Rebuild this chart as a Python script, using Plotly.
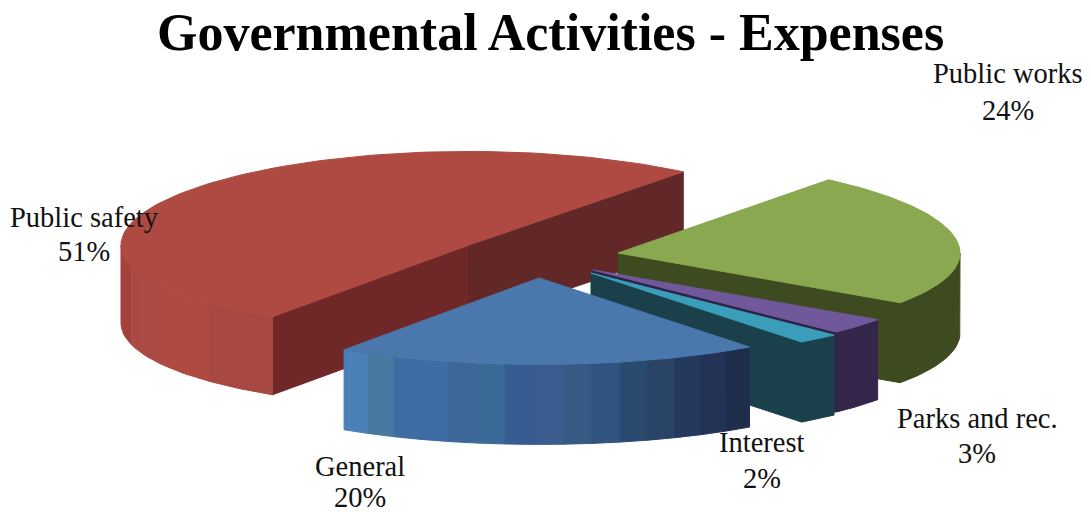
import math
import plotly.graph_objects as go

# Chart data, listed clockwise from the first slice
categories = ["General", "Public safety", "Public works", "Parks and rec.", "Interest"]
shares = [20, 51, 24, 3, 2]
chart_title = "Governmental Activities - Expenses"

# Pie geometry, in page pixels
FIRST_ANGLE = -52.4
RADIUS_X = {"General": 345, "Public safety": 348, "Public works": 342, "Parks and rec.": 345, "Interest": 345}
RADIUS_Y = 90
TILT_BULGE = 0.04
DEPTH = {"General": 80, "Public safety": 78, "Public works": 80, "Parks and rec.": 80, "Interest": 80}
APEX = {
    "General": (539, 278),
    "Public safety": (469, 245),
    "Public works": (618, 253),
    "Parks and rec.": (593, 270),
    "Interest": (591, 273),
}

# Slice colours
TOP_COLOR = {
    "General": "#4A78AC",
    "Public safety": "#AF4A42",
    "Public works": "#89A84F",
    "Parks and rec.": "#71589B",
    "Interest": "#3A9EBB",
}
# Bands of the curved wall, left to right across the page
WALL_BANDS = {
    "General": ["#4A7FB8", "#47789F", "#3F6CA5", "#3F6CA5", "#3D6798", "#3A6A96", "#365C92", "#3A5C8E",
                "#355A84", "#2F5480", "#2A4A70", "#2A4466", "#25395F", "#223355", "#1F2E4D"],
    "Public safety": ["#A5403C", "#A5403C", "#AB4A44", "#AB4A44", "#AE4A41", "#AE4A41", "#A84842", "#A84842"],
    "Public works": ["#3E4A20"],
    "Parks and rec.": ["#33264A"],
    "Interest": ["#1A414B"],
}
FACE_COLOR = {
    "General": ("#2A4A70", "#2A4A70"),
    "Public safety": ("#702728", "#622827"),
    "Public works": ("#3E4A20", "#3E4A20"),
    "Parks and rec.": ("#2E2245", "#2E2245"),
    "Interest": ("#1A414B", "#1A414B"),
}

# Label positions: centre x, then y of the name line and of the percentage line
LABEL_POS = {
    "General": (360, 466, 497),
    "Public safety": (84, 217, 251),
    "Public works": (1008, 73, 110),
    "Parks and rec.": (977, 418, 453),
    "Interest": (762, 442, 478),
}


def rim(name, deg, drop=0):
    """Project a rim point of a slice onto the page."""
    t = math.radians(deg)
    ax, ay = APEX[name]
    s = math.sin(t)
    return ax + RADIUS_X[name] * math.cos(t), ay - RADIUS_Y * s * (1 + TILT_BULGE * s) + drop


def polygon(name, points, color):
    xs = [p[0] for p in points] + [points[0][0]]
    ys = [p[1] for p in points] + [points[0][1]]
    return go.Scatter(
        x=xs, y=ys, mode="lines", fill="toself", fillcolor=color,
        line=dict(color=color, width=1), name=name,
        hoverinfo="skip", showlegend=False,
    )


# Angular span of each slice, going clockwise, with the starting edge kept above -180 degrees
spans = {}
angle = FIRST_ANGLE
for name, share in zip(categories, shares):
    sweep = share * 3.6
    spans[name] = (angle, angle - sweep)
    angle -= sweep
    if angle < -180:
        angle += 360

fig = go.Figure()

# Paint from the back of the pie to the front
for name in sorted(categories, key=lambda c: APEX[c][1]):
    a0, a1 = spans[name]
    ax, ay = APEX[name]
    depth = DEPTH[name]

    # Radial cut faces that look toward the viewer
    for edge, normal, color in ((a0, a0 + 90, FACE_COLOR[name][0]), (a1, a1 - 90, FACE_COLOR[name][1])):
        if math.sin(math.radians(normal)) < 0:
            ex, ey = rim(name, edge)
            fig.add_trace(polygon(name, [(ax, ay), (ex, ey), (ex, ey + depth), (ax, ay + depth)], color))

    # Curved outer wall: only the front half of the rim can be seen
    low, high = max(a1, -180), min(a0, 0)
    bands = WALL_BANDS[name]
    for i, color in enumerate(bands):
        start = low + (high - low) * i / len(bands)
        stop = low + (high - low) * (i + 1) / len(bands)
        steps = [start + (stop - start) * k / 16 for k in range(17)]
        upper = [rim(name, d) for d in steps]
        lower = [rim(name, d, depth) for d in reversed(steps)]
        fig.add_trace(polygon(name, upper + lower, color))

    # Top surface
    arc = [a0 + (a1 - a0) * k / 120 for k in range(121)]
    fig.add_trace(polygon(name, [(ax, ay)] + [rim(name, d) for d in arc], TOP_COLOR[name]))

label_font = dict(family="Liberation Serif", size=28.5, color="#111111")
annotations = [
    dict(x=550, y=32, text=f"<b>{chart_title}</b>", showarrow=False, xref="x", yref="y",
         font=dict(family="Liberation Serif", size=52, color="#000000")),
]
for name, share in zip(categories, shares):
    cx, y_name, y_pct = LABEL_POS[name]
    annotations.append(dict(x=cx, y=y_name, text=name, showarrow=False, xref="x", yref="y", font=label_font))
    annotations.append(dict(x=cx, y=y_pct, text=f"{share}%", showarrow=False, xref="x", yref="y", font=label_font))

fig.update_layout(
    width=1091, height=512,
    margin=dict(l=0, r=0, t=0, b=0),
    paper_bgcolor="white", plot_bgcolor="white",
    xaxis=dict(range=[0, 1091], visible=False, fixedrange=True),
    yaxis=dict(range=[512, 0], visible=False, fixedrange=True),
    annotations=annotations,
)
fig.write_html("out.html", config={"displayModeBar": False})
